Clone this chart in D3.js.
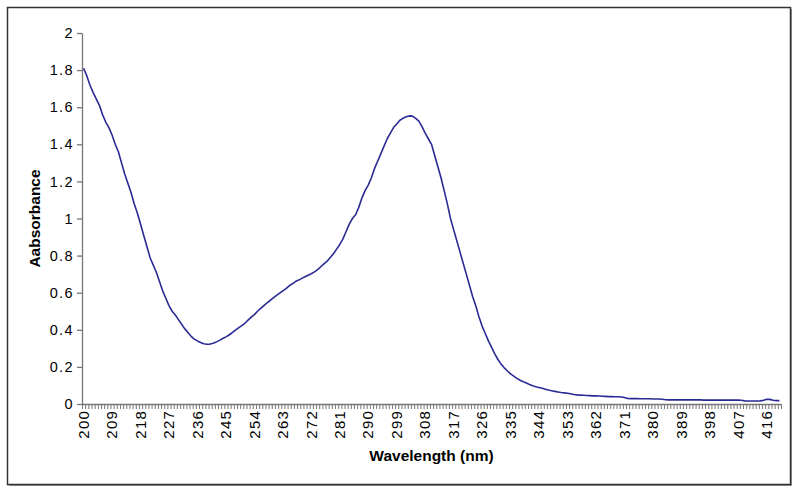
<!DOCTYPE html>
<html><head><meta charset="utf-8">
<script src="https://cdn.jsdelivr.net/npm/d3@7"></script>
<style>html,body{margin:0;padding:0;background:#fff;}svg{display:block;font-family:Arial,"Liberation Sans",sans-serif;}</style>
</head><body>
<svg id="c" width="800" height="492"></svg>
<script>
const wavelengths = d3.range(200, 421);
const absorbance = [
1.81,1.77,1.72,1.68,1.645,1.61,1.56,1.52,1.49,1.45,
1.40,1.36,1.30,1.24,1.19,1.14,1.08,1.03,0.97,0.91,
0.85,0.79,0.75,0.71,0.66,0.61,0.57,0.53,0.50,0.48,
0.455,0.43,0.405,0.385,0.365,0.35,0.34,0.332,0.325,0.322,
0.323,0.327,0.335,0.343,0.353,0.362,0.372,0.385,0.398,0.41,
0.422,0.435,0.452,0.468,0.482,0.50,0.515,0.53,0.545,0.558,
0.572,0.585,0.598,0.61,0.622,0.637,0.648,0.66,0.668,0.677,
0.686,0.694,0.702,0.712,0.724,0.74,0.755,0.77,0.79,0.81,
0.835,0.86,0.89,0.93,0.97,1.00,1.02,1.06,1.11,1.15,
1.18,1.22,1.27,1.31,1.35,1.39,1.43,1.46,1.49,1.51,
1.53,1.54,1.548,1.553,1.552,1.54,1.525,1.495,1.46,1.43,
1.40,1.34,1.28,1.22,1.15,1.08,1.00,0.94,0.88,0.82,
0.76,0.70,0.64,0.58,0.53,0.47,0.42,0.38,0.34,0.305,
0.27,0.24,0.215,0.195,0.178,0.162,0.15,0.138,0.128,0.12,
0.113,0.105,0.098,0.093,0.089,0.085,0.08,0.075,0.071,0.068,
0.065,0.062,0.060,0.058,0.055,0.051,0.049,0.048,0.047,0.046,
0.045,0.044,0.044,0.043,0.042,0.041,0.040,0.040,0.039,0.039,
0.038,0.035,0.030,0.029,0.029,0.029,0.028,0.028,0.028,0.028,
0.027,0.027,0.027,0.026,0.023,0.022,0.022,0.022,0.022,0.022,
0.022,0.022,0.022,0.022,0.022,0.022,0.021,0.021,0.021,0.021,
0.021,0.021,0.021,0.021,0.021,0.021,0.021,0.021,0.020,0.017,
0.016,0.016,0.016,0.016,0.017,0.020,0.026,0.025,0.020,0.018,
0.018
];
const xTickLabels = [200,209,218,227,236,245,254,263,272,281,290,299,308,317,326,335,344,353,362,371,380,389,398,407,416];
const yTicks = [0,0.2,0.4,0.6,0.8,1,1.2,1.4,1.6,1.8,2];
const xTitle = "Wavelength (nm)";
const yTitle = "Aabsorbance";

const svg = d3.select("#c");
const L = 82, R = 781, T = 33, B = 404;

// chart area border with slight shadow
svg.append("rect").attr("x",9).attr("y",9).attr("width",783).attr("height",477)
  .attr("fill","#9a9a9a");
svg.append("rect").attr("x",7.5).attr("y",7.5).attr("width",783).attr("height",477)
  .attr("fill","#fff").attr("stroke","#333").attr("stroke-width",1.5);

const x = d3.scaleBand().domain(wavelengths).range([L, R]).padding(0);
const xb = d3.scaleLinear().domain([0, wavelengths.length]).range([L, R]);
const y = d3.scaleLinear().domain([0, 2]).range([B, T]);

// y axis
const ya = svg.append("g").attr("transform",`translate(${L},0)`)
  .call(d3.axisLeft(y).tickValues(yTicks).tickSize(5).tickSizeOuter(0).tickPadding(4).tickFormat(d3.format("~g")));
ya.select(".domain").attr("stroke","#777").attr("stroke-width",1.3);
ya.selectAll(".tick line").attr("stroke","#777").attr("stroke-width",1.3);
ya.selectAll("text").attr("font-size",14.5).attr("letter-spacing","1.4px").attr("x",-8)
  .attr("fill","#000").attr("font-family","Arial, 'Liberation Sans', sans-serif");

// x axis tick marks at category boundaries
const xt = svg.append("g").attr("transform",`translate(0,${B})`)
  .call(d3.axisBottom(xb).tickValues(d3.range(wavelengths.length+1)).tickSize(5).tickSizeOuter(0).tickFormat(""));
xt.select(".domain").attr("stroke","#777").attr("stroke-width",1.3);
xt.selectAll(".tick line").attr("stroke","#777").attr("stroke-width",1);

// x labels
const xl = svg.append("g").attr("transform",`translate(0,${B})`)
  .call(d3.axisBottom(x).tickValues(xTickLabels).tickSize(0).tickSizeOuter(0));
xl.select(".domain").remove();
xl.selectAll("text")
  .attr("transform","rotate(-90)")
  .attr("text-anchor","end")
  .attr("x",-6).attr("y",0).attr("dy","0.35em")
  .attr("letter-spacing","1.2px")
  .attr("font-size",15).attr("fill","#000").attr("font-family","Arial, 'Liberation Sans', sans-serif");

// line
const line = d3.line().x((d,i)=>x(wavelengths[i]) + x.bandwidth()/2).y(d=>y(d));
svg.append("path").datum(absorbance).attr("d",line)
  .attr("fill","none").attr("stroke","#2a2a95").attr("stroke-width",1.6).attr("stroke-linejoin","round");

// titles
svg.append("text").attr("x",(L+R)/2).attr("y",461).attr("text-anchor","middle")
  .attr("font-size",15.5).attr("font-weight","bold").text(xTitle);
svg.append("text").attr("transform",`translate(40,${(T+B)/2}) rotate(-90)`).attr("text-anchor","middle")
  .attr("font-size",15.5).attr("font-weight","bold").text(yTitle);
</script>
</body></html>
